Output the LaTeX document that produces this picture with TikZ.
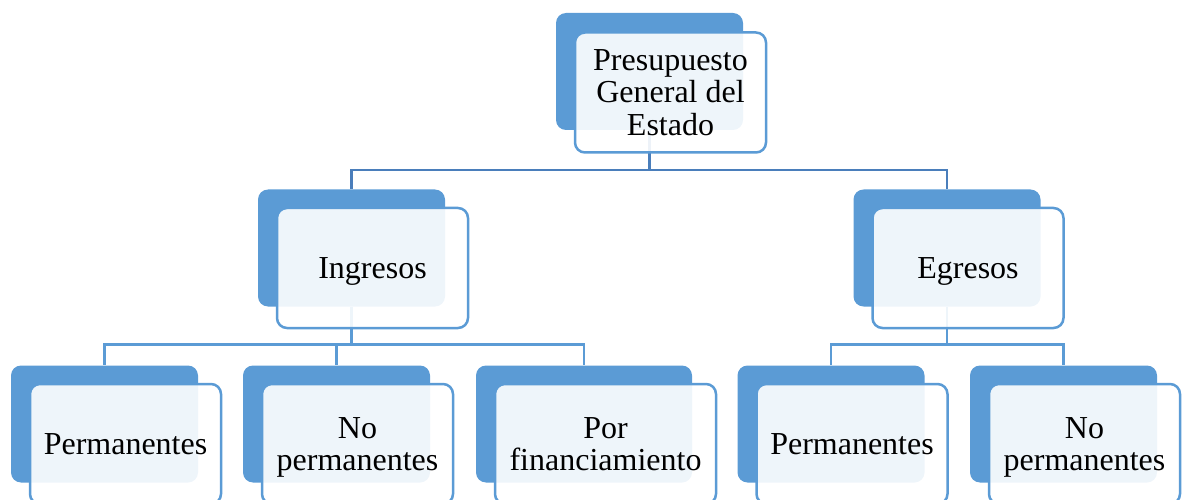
\documentclass[tikz,border=0pt]{standalone}
\usepackage{fontspec}
\setmainfont{Liberation Serif}
\usepackage{tikz}
\definecolor{boxblue}{HTML}{5B9BD5}
\definecolor{topline}{HTML}{4A7EBB}
\definecolor{lowline}{HTML}{5B9BD5}
\tikzset{
  back/.style={fill=boxblue, rounded corners=10pt, minimum width=187pt,
    minimum height=117pt, inner sep=0pt},
  front/.style={draw=boxblue, line width=2.5pt, fill=white, fill opacity=0.9,
    text opacity=1, rounded corners=10pt, minimum width=191pt,
    minimum height=120pt, inner sep=0pt, align=center, text depth=0pt,
    font=\fontsize{32}{32.5}\selectfont},
  link/.style={draw=lowline, line width=2.5pt},
  toplink/.style={draw=topline, line width=2.5pt}
}
\begin{document}
\begin{tikzpicture}[x=1pt,y=1pt]
  \useasboundingbox (0,0) rectangle (1187,-500);
  % Define nodes
  \node[back] (pgeb) at (649.5,-71.5) {};
  \node[back] (ingb) at (351.5,-248) {};
  \node[back] (egrb) at (947,-248) {};
  \node[back] (ipb) at (104.5,-424) {};
  \node[back] (inpb) at (336.5,-424) {};
  \node[back, minimum width=216pt] (ifb) at (584,-424) {};
  \node[back] (epb) at (831,-424) {};
  \node[back] (enpb) at (1063.5,-424) {};
  % Connect nodes
  \draw[toplink] (pgeb.south) -- ++(0,-40) -| (ingb.north);
  \draw[toplink] (pgeb.south) -- ++(0,-40) -| (egrb.north);
  \draw[link] (ingb.south) -- ++(0,-38) -| (ipb.north);
  \draw[link] (ingb.south) -- ++(0,-38) -| (inpb.north);
  \draw[link] (ingb.south) -- ++(0,-38) -| (ifb.north);
  \draw[link] (egrb.south) -- ++(0,-38) -| (epb.north);
  \draw[link] (egrb.south) -- ++(0,-38) -| (enpb.north);
  % Front boxes
  \node[front] (pge) at ([shift={(21,-21)}]pgeb) {Presupuesto\\General del\\Estado};
  \node[front] (ing) at ([shift={(21,-20)}]ingb) {Ingresos};
  \node[front] (egr) at ([shift={(21,-20)}]egrb) {Egresos};
  \node[front] (ip) at ([shift={(21,-20)}]ipb) {Permanentes};
  \node[front] (inp) at ([shift={(21,-20)}]inpb) {No\\permanentes};
  \node[front, minimum width=221pt] (if) at ([shift={(21.5,-20)}]ifb) {Por\\financiamiento};
  \node[front] (ep) at ([shift={(21,-20)}]epb) {Permanentes};
  \node[front] (enp) at ([shift={(21,-20)}]enpb) {No\\permanentes};
\end{tikzpicture}
\end{document}
